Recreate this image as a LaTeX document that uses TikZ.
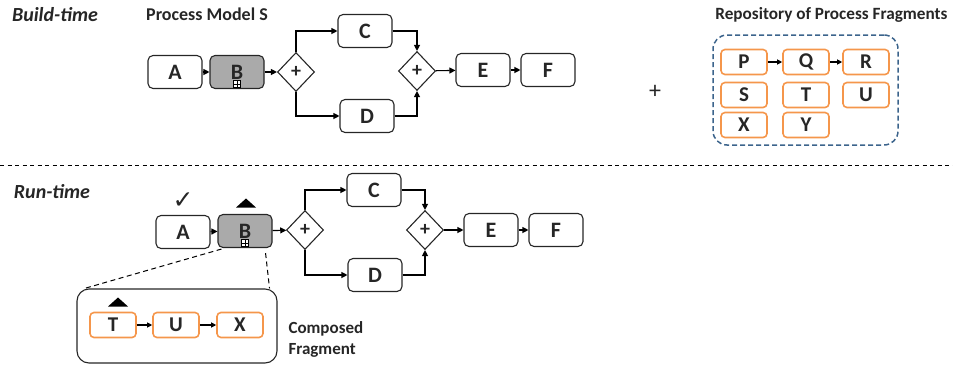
\documentclass[tikz,border=0pt]{standalone}
\usepackage{fontspec}
\setmainfont{Carlito}
\newfontfamily\symfont{DejaVu Sans}
\usetikzlibrary{shapes.geometric,arrows.meta,calc}
\definecolor{fragorange}{RGB}{245,150,75}
\definecolor{repoblue}{RGB}{60,100,140}
\definecolor{taskgray}{RGB}{170,170,170}
\definecolor{txt}{RGB}{38,38,38}
\tikzset{
  task/.style={draw=black!85, line width=1.1pt, rounded corners=5pt, minimum width=54pt, minimum height=33pt, inner sep=0pt, text=txt, font=\bfseries\fontsize{22}{22}\selectfont},
  frag/.style={draw=fragorange, line width=1.6pt, rounded corners=4pt, minimum width=46pt, minimum height=25pt, inner sep=0pt, text=txt, font=\bfseries\fontsize{21}{21}\selectfont},
  gw/.style={diamond, draw=black!85, line width=1.1pt, minimum width=37pt, minimum height=39pt, inner sep=0pt, text=txt, font=\bfseries\fontsize{20}{20}\selectfont},
  arr/.style={line width=1.1pt, -{Triangle[length=6pt,width=6pt]}},
  sarr/.style={line width=1.1pt, -{Triangle[length=5pt,width=5pt]}},
  title/.style={text=txt, font=\bfseries\fontsize{18}{18}\selectfont},
  phase/.style={text=txt, font=\bfseries\itshape\fontsize{20}{20}\selectfont},
  sep/.style={line width=0.9pt, dash pattern=on 4pt off 3.5pt},
  zoomline/.style={line width=1pt, dash pattern=on 5pt off 3.5pt},
}
\newcommand{\subicon}[1]{%
  \draw[line width=0.7pt,fill=white] ($(#1)+(-3.5,-3.5)$) rectangle ($(#1)+(3.5,3.5)$);
  \draw[line width=0.7pt] ($(#1)+(-3.5,0)$) -- ($(#1)+(3.5,0)$) ($(#1)+(0,-3.5)$) -- ($(#1)+(0,3.5)$);}
\newcommand{\tokentri}[1]{%
  \fill[black] ($(#1)+(-10,4.5)$) -- ($(#1)+(10,4.5)$) -- ($(#1)+(0,-4.5)$) -- cycle;}
\begin{document}
\begin{tikzpicture}[x=1pt,y=-1pt]
\useasboundingbox (0,0) rectangle (953,367);
% ---------------- Build-time ----------------
\node[phase] (bt) at (55,15) {Build-time};
\node[title] (pms) at (207,14) {Process Model S};
\node[task] (A1) at (175,72) {A};
\node[task, fill=taskgray] (B1) at (237,72) {B};
\coordinate (B1i) at (237,84);
\subicon{B1i}
\node[gw] (G11) at (296,72) {+};
\node[task] (C1) at (365,31) {C};
\node[task] (D1) at (367,116) {D};
\node[gw] (G12) at (417,71) {+};
\node[task] (E1) at (483,70) {E};
\node[task] (F1) at (548,70) {F};
\draw[arr] (A1) -- (B1);
\draw[arr] (B1) -- (G11);
\draw[arr] (G11.north) |- (C1.west);
\draw[arr] (G11.south) |- (D1.west);
\draw[arr] (C1.east) -| (G12.north);
\draw[arr] (D1.east) -| (G12.south);
\draw[arr] (G12) -- (E1);
\draw[arr] (E1) -- (F1);
\node[text=txt, font=\fontsize{24}{24}\selectfont] (plus) at (655,92) {+};
% repository
\node[title, anchor=east, font=\bfseries\fontsize{17.2}{18}\selectfont] (rt) at (951,15) {Repository of Process Fragments};
\node[draw=repoblue, line width=1.5pt, dash pattern=on 5pt off 3pt, rounded corners=14pt, minimum width=185pt, minimum height=110pt] (repo) at (805.5,90) {};
\node[frag] (P) at (744,62) {P};
\node[frag] (Q) at (806,62) {Q};
\node[frag] (R) at (866,62) {R};
\node[frag] (S) at (744,95) {S};
\node[frag] (T) at (806,95) {T};
\node[frag] (U) at (866,95) {U};
\node[frag] (X) at (744,125) {X};
\node[frag] (Y) at (806,125) {Y};
\draw[sarr] (P) -- (Q);
\draw[sarr] (Q) -- (R);
% separator
\coordinate (sepL) at (0,165);
\coordinate (sepR) at (953,165);
\draw[sep] (sepL) -- (sepR);
% ---------------- Run-time ----------------
\node[phase] (rtm) at (52,192) {Run-time};
\node[task] (A2) at (183,232) {A};
\node[task, fill=taskgray] (B2) at (245,231) {B};
\coordinate (B2i) at (245,243);
\subicon{B2i}
\node[text=txt, font=\symfont\fontsize{25}{25}\selectfont] (chk) at (183,201) {✓};
\coordinate (triB) at (246,203);
\tokentri{triB}
\node[gw] (G21) at (305,230) {+};
\node[task] (C2) at (374,190) {C};
\node[task] (D2) at (375,275) {D};
\node[gw] (G22) at (425,230) {+};
\node[task] (E2) at (491,230) {E};
\node[task] (F2) at (556,230) {F};
\draw[arr] (A2) -- (B2);
\draw[arr] (B2) -- (G21);
\draw[arr] (G21.north) |- (C2.west);
\draw[arr] (G21.south) |- (D2.west);
\draw[arr] (C2.east) -| (G22.north);
\draw[arr] (D2.east) -| (G22.south);
\draw[arr] (G22) -- (E2);
\draw[arr] (E2) -- (F2);
% composed fragment
\node[draw=black!85, line width=1.1pt, rounded corners=12pt, minimum width=200pt, minimum height=74pt] (comp) at (177,326) {};
\node[frag] (T2) at (113,325) {T};
\node[frag] (U2) at (176,325) {U};
\node[frag] (X2) at (240,325) {X};
\coordinate (triT) at (118,302);
\tokentri{triT}
\draw[sarr] (T2) -- (U2);
\draw[sarr] (U2) -- (X2);
\draw[zoomline] ($(B2.south west)+(4,1)$) -- ($(comp.north west)+(8,0)$);
\draw[zoomline] ($(B2.south east)+(-7,5)$) -- ($(comp.north east)+(-8,0)$);
\node[title, anchor=west, align=left, font=\bfseries\fontsize{17}{21}\selectfont] (cf) at (285,339) {Composed\\Fragment};
\end{tikzpicture}
\end{document}
